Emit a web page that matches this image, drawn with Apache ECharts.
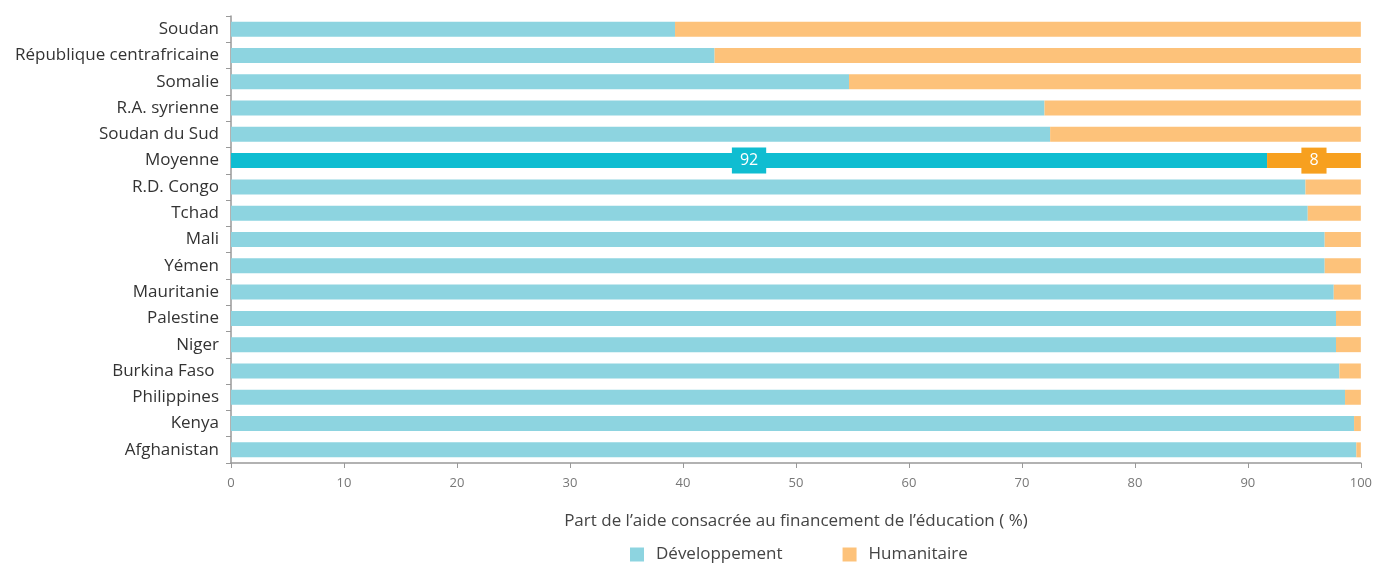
<!DOCTYPE html>
<html>
<head>
<meta charset="utf-8">
<script src="https://cdn.jsdelivr.net/npm/echarts@6/dist/echarts.min.js"></script>
<style>
  html, body { margin: 0; padding: 0; background: #fff; }
  #chart { width: 1375px; height: 563px; }
</style>
</head>
<body>
<div id="chart"></div>
<script>
// pays, de haut en bas
var countries = ["Soudan", "République centrafricaine", "Somalie", "R.A. syrienne", "Soudan du Sud",
  "Moyenne", "R.D. Congo", "Tchad", "Mali", "Yémen", "Mauritanie", "Palestine", "Niger",
  "Burkina Faso ", "Philippines", "Kenya", "Afghanistan"];
var developpement = [39.3, 42.8, 54.7, 72.0, 72.5, 91.7, 95.1, 95.3, 96.8, 96.8, 97.6, 97.8, 97.8, 98.1, 98.6, 99.4, 99.6];
var humanitaire = [60.7, 57.2, 45.3, 28.0, 27.5, 8.3, 4.9, 4.7, 3.2, 3.2, 2.4, 2.2, 2.2, 1.9, 1.4, 0.6, 0.4];
var xTicks = [0, 10, 20, 30, 40, 50, 60, 70, 80, 90, 100];

var avgName = "Moyenne";

function buildData(values, hiColor) {
  return values.map(function (v, i) {
    if (countries[i] !== avgName) return v;
    return {
      value: v,
      itemStyle: { color: hiColor },
      label: {
        show: true,
        position: "inside",
        formatter: function (p) { return Math.round(p.value); },
        color: "#fff",
        fontSize: 16,
        backgroundColor: hiColor,
        padding: [5, 8]
      }
    };
  });
}

var chart = echarts.init(document.getElementById("chart"));
chart.setOption({
  textStyle: { fontFamily: "Open Sans" },
  grid: { left: 231, right: 14, top: 16, bottom: 100 },
  legend: {
    top: 541,
    left: 625,
    itemWidth: 14,
    itemHeight: 14,
    itemGap: 60,
    icon: "rect",
    textStyle: { fontSize: 17, color: "#444", padding: [0, 0, 0, 7] },
    data: ["Développement", "Humanitaire"]
  },
  xAxis: {
    type: "value",
    min: 0,
    max: 100,
    interval: 10,
    name: "Part de l’aide consacrée au financement de l’éducation ( %)",
    nameLocation: "middle",
    nameGap: 50,
    nameTextStyle: { fontSize: 17, color: "#444" },
    axisLine: { show: true, lineStyle: { color: "#999", width: 1.5 } },
    axisTick: { show: true, length: 5, lineStyle: { color: "#999" } },
    axisLabel: { fontSize: 13, color: "#777", margin: 14 },
    splitLine: { show: false }
  },
  yAxis: {
    type: "category",
    inverse: true,
    data: countries,
    axisLine: { show: true, lineStyle: { color: "#999", width: 1.5 } },
    axisTick: { show: true, length: 5, lineStyle: { color: "#999" } },
    axisLabel: { fontSize: 17, color: "#333", margin: 12 }
  },
  series: [
    {
      name: "Développement",
      type: "bar",
      stack: "total",
      barCategoryGap: "43%",
      itemStyle: { color: "#8dd4e0" },
      data: buildData(developpement, "#0fbdd1")
    },
    {
      name: "Humanitaire",
      type: "bar",
      stack: "total",
      barCategoryGap: "43%",
      itemStyle: { color: "#fdc27a" },
      data: buildData(humanitaire, "#f7a01f")
    }
  ]
});
</script>
</body>
</html>
